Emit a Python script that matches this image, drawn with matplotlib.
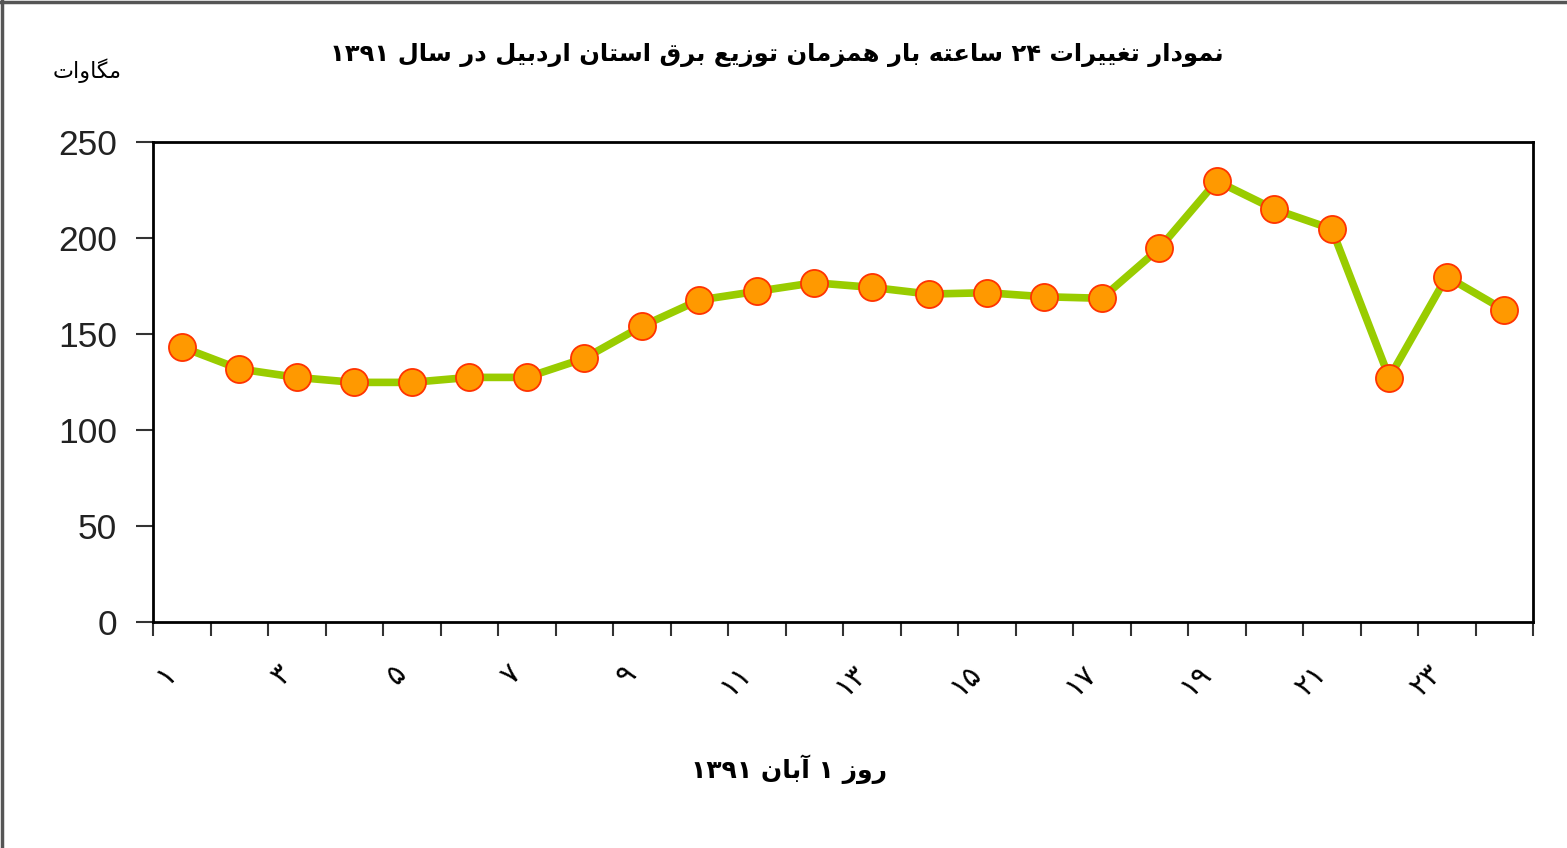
import re
import matplotlib
matplotlib.use('Agg')
import matplotlib.pyplot as plt
from matplotlib.lines import Line2D

# ---------------- data ----------------
days = list(range(1, 25))
load_mw = [143.2, 131.8, 127.4, 124.8, 124.8, 127.4, 127.4, 137.3, 154.0, 167.7, 172.2, 176.7,
           174.3, 170.8, 171.5, 169.4, 168.6, 194.6, 229.7, 215.0, 204.7, 127.2, 179.9, 162.5]
xtick_days = [1, 3, 5, 7, 9, 11, 13, 15, 17, 19, 21, 23]
xtick_labels = ['۱', '۳', '۵', '۷', '۹', '۱۱', '۱۳', '۱۵', '۱۷', '۱۹', '۲۱', '۲۳']
ytick_values = [0, 50, 100, 150, 200, 250]
title_text = 'نمودار تغییرات ۲۴ ساعته بار همزمان توزیع برق استان اردبیل در سال ۱۳۹۱'
ylabel_text = 'مگاوات'
xlabel_text = 'روز ۱ آبان ۱۳۹۱'

# -------- minimal Persian shaping (matplotlib has no complex text layout) --------
_FORMS = {
    '\u0627': ('\uFE8D', '\uFE8E', None, None),
    '\u0622': ('\uFE81', '\uFE82', None, None),
    '\u062F': ('\uFEA9', '\uFEAA', None, None),
    '\u0631': ('\uFEAD', '\uFEAE', None, None),
    '\u0632': ('\uFEAF', '\uFEB0', None, None),
    '\u0648': ('\uFEED', '\uFEEE', None, None),
    '\u0628': ('\uFE8F', '\uFE90', '\uFE91', '\uFE92'),
    '\u062A': ('\uFE95', '\uFE96', '\uFE97', '\uFE98'),
    '\u0633': ('\uFEB1', '\uFEB2', '\uFEB3', '\uFEB4'),
    '\u0639': ('\uFEC9', '\uFECA', '\uFECB', '\uFECC'),
    '\u063A': ('\uFECD', '\uFECE', '\uFECF', '\uFED0'),
    '\u0642': ('\uFED5', '\uFED6', '\uFED7', '\uFED8'),
    '\u0644': ('\uFEDD', '\uFEDE', '\uFEDF', '\uFEE0'),
    '\u0645': ('\uFEE1', '\uFEE2', '\uFEE3', '\uFEE4'),
    '\u0646': ('\uFEE5', '\uFEE6', '\uFEE7', '\uFEE8'),
    '\u0647': ('\uFEE9', '\uFEEA', '\uFEEB', '\uFEEC'),
    '\u06CC': ('\uFBFC', '\uFBFD', '\uFBFE', '\uFBFF'),
    '\u06AF': ('\uFB92', '\uFB93', '\uFB94', '\uFB95'),
}


def shape(s):
    out = []
    n = len(s)
    for i, c in enumerate(s):
        f = _FORMS.get(c)
        if f is None:
            out.append(c)
            continue
        p = s[i - 1] if i > 0 else ''
        q = s[i + 1] if i < n - 1 else ''
        jp = p in _FORMS and _FORMS[p][2] is not None
        jn = f[2] is not None and q in _FORMS
        if jp and jn:
            out.append(f[3])
        elif jp:
            out.append(f[1])
        elif jn:
            out.append(f[2])
        else:
            out.append(f[0])
    vis = ''.join(out)[::-1]
    vis = re.sub(r'[\u06F0-\u06F90-9]+', lambda m: m.group(0)[::-1], vis)
    return vis


# ---------------- figure ----------------
W, H = 1567, 848
fig = plt.figure(figsize=(W / 100, H / 100), dpi=100)
fig.patch.set_facecolor('white')

ax = fig.add_axes([153 / W, 1 - 622 / H, (1533 - 153) / W, (622 - 142) / H])

ax.plot(days, load_mw, color='#99CC00', lw=5.5, marker='o', markersize=19.5,
        markerfacecolor='#FF9900', markeredgecolor='#FF3300', markeredgewidth=1.3,
        zorder=3, clip_on=False)

ax.set_xlim(0.5, 24.5)
ax.set_ylim(0, 250)

# category boundaries as major ticks, labels on minor ticks at category centres
ax.set_xticks([d - 0.5 for d in days] + [days[-1] + 0.5])
ax.set_xticklabels([])
ax.set_xticks(xtick_days, minor=True)
ax.set_xticklabels(xtick_labels, minor=True, rotation=45, ha='right', va='top',
                   fontsize=21, family='DejaVu Sans')
ax.tick_params(axis='x', which='major', direction='out', length=10, width=1.5, color='#333333')
ax.tick_params(axis='x', which='minor', length=0, pad=27)

ax.set_yticks(ytick_values)
ax.set_yticklabels([str(v) for v in ytick_values], fontsize=25.5, family='Liberation Sans',
                   color='#222222')
ax.tick_params(axis='y', direction='out', length=12, width=1.5, color='#333333', pad=14)

for sp in ax.spines.values():
    sp.set_color('black')
    sp.set_linewidth(2)

# texts
fig.text(777 / W, 1 - 55 / H, shape(title_text), ha='center', va='center',
         fontsize=17.5, fontweight='bold', family='DejaVu Sans')
fig.text(87 / W, 1 - 71 / H, shape(ylabel_text), ha='center', va='center',
         fontsize=16, family='DejaVu Sans')
fig.text(789 / W, 1 - 769 / H, shape(xlabel_text), ha='center', va='center',
         fontsize=18, fontweight='bold', family='DejaVu Sans')

# outer frame (left and top edges)
fig.add_artist(Line2D([1.5 / W, 1.5 / W], [0, 1], color='#555555', lw=2.5,
                      transform=fig.transFigure))
fig.add_artist(Line2D([0, 1], [1 - 1.5 / H, 1 - 1.5 / H], color='#555555', lw=2.5,
                      transform=fig.transFigure))

fig.savefig('out.png', dpi=100, facecolor='white')
